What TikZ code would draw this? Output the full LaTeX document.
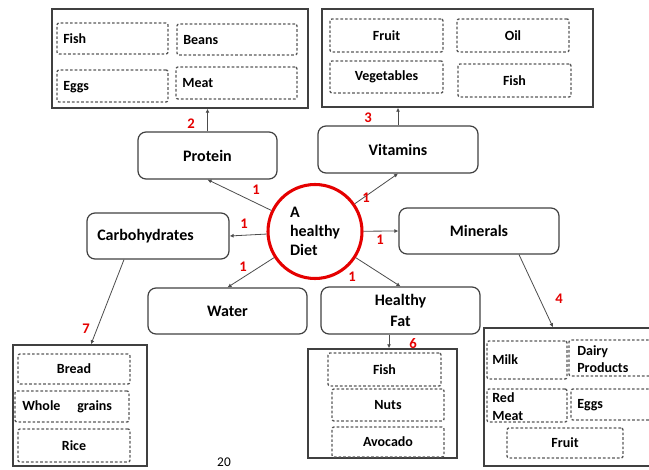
\documentclass[tikz,border=0pt]{standalone}
\usepackage{fontspec}
\setmainfont{Carlito}
\usetikzlibrary{arrows.meta}
\begin{document}
\begin{tikzpicture}[x=0.75pt,y=-0.75pt,
  outer/.style={draw=black!75, line width=1.1pt, inner sep=0pt, rectangle},
  rbox/.style={draw=black!75, line width=0.9pt, rounded corners=6pt, inner sep=0pt, align=center, font=\fontsize{12}{14}\selectfont\bfseries},
  dbox/.style={draw=black!65, line width=1pt, dash pattern=on 2pt off 1.5pt, rounded corners=1.5pt, inner sep=0pt, font=\fontsize{10.5}{12.5}\selectfont\bfseries},
  itxt/.style={font=\fontsize{10.5}{12.5}\selectfont\bfseries, inner sep=0pt, anchor=west, align=left},
  num/.style={text=red!90!black, font=\fontsize{11}{13}\selectfont\bfseries, inner sep=0pt},
  conn/.style={draw=black!70, line width=0.6pt, -{Latex[length=3pt,width=3pt]}},
]
\useasboundingbox (0,0) rectangle (649,470);
\clip (0,0) rectangle (649,470);

% ---------- Protein group ----------
\node[outer, minimum width=192pt, minimum height=74.25pt] (protbox) at (180,58.5) {};
\node[dbox, minimum width=83.25pt, minimum height=23.25pt] (pfish) at (112.5,38.5) {};
\node[itxt] (pfisht) at (63,39) {Fish};
\node[dbox, minimum width=90pt, minimum height=23.25pt] (pbeans) at (237,39.5) {};
\node[itxt] (pbeanst) at (183,40) {Beans};
\node[dbox, minimum width=83.25pt, minimum height=24pt] (peggs) at (112.5,86) {};
\node[itxt] (peggst) at (63,87) {Eggs};
\node[dbox, minimum width=90.75pt, minimum height=24pt] (pmeat) at (236.5,83) {};
\node[itxt] (pmeatt) at (182,83) {Meat};
\node[rbox, minimum width=104.25pt, minimum height=35.25pt] (prot) at (207.5,155.5) {Protein};

% ---------- Vitamins group ----------
\node[outer, minimum width=203.25pt, minimum height=73.5pt] (vitbox) at (457.5,58) {};
\node[dbox, minimum width=84.75pt, minimum height=24.75pt] (vfruit) at (386.5,35.5) {Fruit};
\node[dbox, minimum width=84pt, minimum height=24.75pt] (voil) at (513,35.5) {Oil};
\node[dbox, minimum width=84.75pt, minimum height=24pt] (vveg) at (386.5,77) {Vegetables};
\node[dbox, minimum width=84.75pt, minimum height=24.75pt] (vfish) at (514.5,80.5) {Fish};
\node[rbox, minimum width=120pt, minimum height=35.25pt] (vit) at (398,149.5) {Vitamins};

% ---------- centre ----------
\node[circle, draw=red!90!black, line width=2.3pt, minimum size=70.5pt, inner sep=0pt, align=left, font=\fontsize{12}{14.3}\selectfont\bfseries] (diet) at (315,231.5) {A\\healthy\\Diet};

\node[rbox, minimum width=106.5pt, minimum height=34.5pt] (carb) at (158,236) {};
\node[font=\fontsize{12}{14}\selectfont\bfseries, inner sep=0pt, anchor=west] (carbt) at (97,236) {Carbohydrates};
\node[rbox, minimum width=120pt, minimum height=34.5pt] (min) at (479,231) {Minerals};
\node[rbox, minimum width=119.25pt, minimum height=34.5pt] (water) at (227.5,311) {Water};
\node[rbox, minimum width=119.25pt, minimum height=35.25pt, font=\fontsize{12}{15.75}\selectfont\bfseries] (hfat) at (400.5,310.5) {Healthy\\Fat};

% ---------- Carbohydrates group ----------
\node[outer, minimum width=100.5pt, minimum height=90.75pt] (carbbox) at (80,405.5) {};
\node[dbox, minimum width=84pt, minimum height=22.5pt] (cbread) at (74,369) {Bread};
\node[dbox, minimum width=85.5pt, minimum height=23.25pt] (cwhole) at (72,406.5) {};
\node[itxt] (cwholet) at (22,407) {Whole\hspace{1.2em}grains};
\node[dbox, minimum width=84pt, minimum height=24.75pt] (crice) at (74,445.5) {Rice};

% ---------- Healthy fat group ----------
\node[outer, minimum width=111.75pt, minimum height=81.75pt] (fatbox) at (382.5,403.5) {};
\node[dbox, minimum width=84.75pt, minimum height=24.75pt] (ffish) at (384.5,369.5) {Fish};
\node[dbox, minimum width=84pt, minimum height=24pt] (fnuts) at (388,405) {Nuts};
\node[dbox, minimum width=84pt, minimum height=22.5pt] (favo) at (388,442) {Avocado};

% ---------- Minerals group ----------
\node[outer, minimum width=133.5pt, minimum height=103.5pt] (minbox) at (573,397) {};
\node[dbox, minimum width=60pt, minimum height=28.5pt] (mmilk) at (527,360) {};
\node[itxt] (mmilkt) at (492,360) {Milk};
\node[dbox, minimum width=68.25pt, minimum height=27pt] (mdairy) at (614.5,358) {};
\node[itxt, font=\fontsize{10.5}{12.75}\selectfont\bfseries] (mdairyt) at (577,359) {Dairy\\Products};
\node[dbox, minimum width=60pt, minimum height=24.75pt] (mred) at (527,405.5) {};
\node[itxt, font=\fontsize{10.5}{13.5}\selectfont\bfseries] (mredt) at (492,407) {Red\\Meat};
\node[dbox, minimum width=66.75pt, minimum height=23.25pt] (meggs) at (615.5,404.5) {};
\node[itxt] (meggst) at (577,405) {Eggs};
\node[dbox, minimum width=87pt, minimum height=22.5pt] (mfruit) at (565,443) {Fruit};

% ---------- connectors ----------
\coordinate (mx1) at (519,0);
\coordinate (mx2) at (553,0);
\coordinate (cx1) at (124,0);
\coordinate (cx2) at (91,0);
\coordinate (fx1) at (389,0);

\draw[conn] (diet) -- (prot.south);
\draw[conn] (diet) -- (vit.south);
\draw[conn] (diet) -- (carb.east);
\draw[conn] (diet) -- (min.west);
\draw[conn] (diet) -- (water.north);
\draw[conn] (diet) -- (hfat.north);
\draw[conn] (prot.north) -- (protbox.south -| prot.north);
\draw[conn] (vit.north) -- (vitbox.south -| vit.north);
\draw[conn] (min.south -| mx1) -- (minbox.north -| mx2);
\draw[conn] (carb.south -| cx1) -- (carbbox.north -| cx2);
\draw[conn] (hfat.south -| fx1) -- (fatbox.north -| fx1);

% ---------- numbers ----------
\node[num] (n2) at (191,124) {2};
\node[num] (n3) at (368,118) {3};
\node[num] (n4) at (559,299) {4};
\node[num] (n6) at (413,344) {6};
\node[num] (n7) at (86,329) {7};
\node[num] (n1a) at (256,190) {1};
\node[num] (n1b) at (366,198) {1};
\node[num] (n1c) at (244,224) {1};
\node[num] (n1d) at (380,240) {1};
\node[num] (n1e) at (243,267) {1};
\node[num] (n1f) at (352,277) {1};

\node[font=\fontsize{10}{12}\selectfont, inner sep=0pt] (pg) at (224,462) {20};
\end{tikzpicture}
\end{document}
